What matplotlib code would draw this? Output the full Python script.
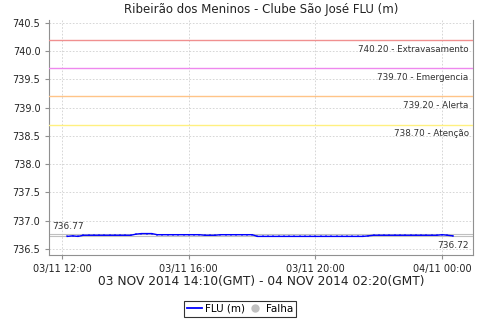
import matplotlib
matplotlib.use("Agg")
import matplotlib.pyplot as plt
import matplotlib.dates as mdates
from matplotlib.lines import Line2D
import pandas as pd

title = "Ribeirão dos Meninos - Clube São José FLU (m)"
xlabel = "03 NOV 2014 14:10(GMT) - 04 NOV 2014 02:20(GMT)"
start = "2014-11-03 12:10"
values = [736.72, 736.73, 736.72,
          736.74, 736.74, 736.74, 736.74, 736.74, 736.74, 736.74, 736.74, 736.74, 736.74,
          736.76, 736.77, 736.77, 736.77,
          736.75, 736.75, 736.75, 736.75, 736.75, 736.75, 736.75, 736.75, 736.75,
          736.74, 736.74, 736.74,
          736.75, 736.75, 736.75, 736.75, 736.75, 736.75, 736.75,
          736.72, 736.72, 736.72, 736.72, 736.72, 736.72, 736.72, 736.72, 736.72, 736.72,
          736.72, 736.72, 736.72, 736.72, 736.72, 736.72, 736.72, 736.72, 736.72, 736.72, 736.72,
          736.73,
          736.74, 736.74, 736.74, 736.74, 736.74, 736.74, 736.74, 736.74, 736.74, 736.74,
          736.74, 736.74, 736.74,
          736.75, 736.74, 736.73]
times = pd.date_range(start, periods=len(values), freq="10min")

thr_values = [740.20, 739.70, 739.20, 738.70]
thr_names = ["Extravasamento", "Emergencia", "Alerta", "Atenção"]
thr_colors = ["#f09090", "#ee88ee", "#ffc488", "#fff080"]

vmax = 736.77
vmin = 736.72

fig = plt.figure(figsize=(4.8, 3.2), dpi=100)
ax = fig.add_axes([0.103, 0.203, 0.882, 0.7345])

ax.plot(times, values, color="#0000ff", lw=1.0, marker="+", ms=2.0, mew=0.3, zorder=5)

for v, n, c in zip(thr_values, thr_names, thr_colors):
    ax.axhline(v, color=c, lw=1.0, zorder=3)
    ax.annotate(f"{v:.2f} - {n}", xy=(1, v), xycoords=("axes fraction", "data"),
                xytext=(-3, -3.5), textcoords="offset points", ha="right", va="top",
                fontsize=6.3, color="#333333")

ax.axhline(vmax, color="#c0c0c0", lw=0.8, zorder=2)
ax.axhline(vmin, color="#c0c0c0", lw=0.8, zorder=2)
ax.annotate(f"{vmax:.2f}", xy=(0, vmax), xycoords=("axes fraction", "data"),
            xytext=(2, 2), textcoords="offset points", ha="left", va="bottom",
            fontsize=6.5, color="#333333")
ax.annotate(f"{vmin:.2f}", xy=(1, vmin), xycoords=("axes fraction", "data"),
            xytext=(-3, -3), textcoords="offset points", ha="right", va="top",
            fontsize=6.5, color="#333333")

ax.set_ylim(736.39, 740.55)
ax.set_yticks([736.5 + 0.5 * k for k in range(9)])
ax.yaxis.set_major_formatter(matplotlib.ticker.FormatStrFormatter("%.1f"))
t0 = pd.Timestamp("2014-11-03 11:36")
t1 = pd.Timestamp("2014-11-04 00:58")
ax.set_xlim(t0, t1)
ax.xaxis.set_major_locator(mdates.HourLocator(byhour=[0, 4, 8, 12, 16, 20]))
ax.xaxis.set_major_formatter(mdates.DateFormatter("%d/%m %H:%M"))

ax.grid(True, color="#d0d0d0", ls=(0, (2, 2)), lw=0.6)
ax.set_axisbelow(True)
for s in ["left", "bottom", "right"]:
    ax.spines[s].set_color("#909090")
ax.spines["top"].set_visible(False)
ax.tick_params(labelsize=7, colors="#909090", labelcolor="#222222", length=3, width=0.8)

ax.set_title(title, fontsize=8.5, color="#222222", pad=5)
ax.set_xlabel(xlabel, fontsize=8.8, color="#222222", labelpad=1)

handles = [Line2D([], [], color="#0000ff", lw=1.3),
           Line2D([], [], color="#c0c0c0", marker="o", ls="none", ms=5)]
leg = fig.legend(handles, ["FLU (m)", "Falha"], loc="center", bbox_to_anchor=(0.5, 0.035),
                 ncol=2, fontsize=7.5, frameon=True, fancybox=False, edgecolor="black",
                 handlelength=1.4, handletextpad=0.3, columnspacing=0.3, borderpad=0.3,
                 borderaxespad=0)
leg.get_frame().set_linewidth(0.8)

fig.savefig("out.png", dpi=100)
